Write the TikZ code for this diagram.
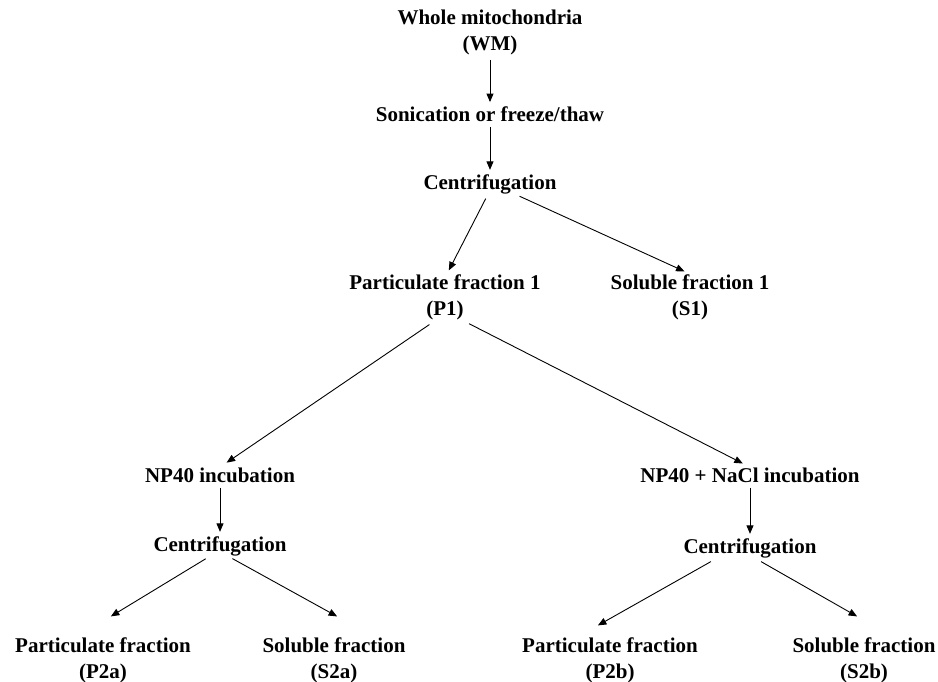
\documentclass[tikz,border=0pt]{standalone}
\usepackage{fontspec}
\setmainfont{Liberation Serif}
\usetikzlibrary{arrows.meta}

\begin{document}
\begin{tikzpicture}[x=1pt,y=-1pt,->,>={Triangle[length=8.5pt,width=7pt]},
  line width=0.9pt,shorten >=4pt,shorten <=5pt,
  main node/.style={font=\fontsize{21}{26}\selectfont\bfseries,align=center,inner sep=0pt}]
  \useasboundingbox (0,0) rectangle (938,682);
  \node[main node] (wm) at (490,32) {Whole mitochondria\\(WM)};
  \node[main node] (son) at (490,114) {Sonication or freeze/thaw};
  \node[main node] (cen1) at (490,184) {Centrifugation};
  \node[main node] (p1) at (445,297) {Particulate fraction 1\\(P1)};
  \node[main node] (s1) at (690,297) {Soluble fraction 1\\(S1)};
  \node[main node] (np) at (220,475) {NP40 incubation};
  \node[main node] (npn) at (750,475) {NP40 + NaCl incubation};
  \node[main node] (cen2a) at (220,546) {Centrifugation};
  \node[main node] (cen2b) at (750,548) {Centrifugation};
  \node[main node] (p2a) at (103,660) {Particulate fraction\\(P2a)};
  \node[main node] (s2a) at (334,660) {Soluble fraction\\(S2a)};
  \node[main node] (p2b) at (610,660) {Particulate fraction\\(P2b)};
  \node[main node] (s2b) at (864,660) {Soluble fraction\\(S2b)};
  \path
    (wm) edge (son)
    (son) edge (cen1)
    ([xshift=-2pt]cen1.south) edge ([xshift=2pt]p1.north)
    ([xshift=25pt]cen1.south) edge[shorten >=6pt] (s1.north)
    ([xshift=-9pt]p1.south) edge[shorten <=8pt,shorten >=8pt] (np.north)
    ([xshift=17pt]p1.south) edge[shorten <=8pt,shorten >=8pt] (npn.north)
    (np) edge (cen2a)
    (npn) edge (cen2b)
    ([xshift=-10pt]cen2a.south) edge[shorten >=1pt] ([xshift=7pt,yshift=20pt]p2a.north)
    ([xshift=8pt]cen2a.south) edge[shorten >=1pt] ([xshift=4pt,yshift=20pt]s2a.north)
    ([xshift=-33pt]cen2b.south) edge[shorten <=7pt,shorten >=1pt] ([xshift=-13pt,yshift=11pt]p2b.north)
    ([xshift=5pt]cen2b.south) edge[shorten <=7pt,shorten >=1pt] ([xshift=-6pt,yshift=20pt]s2b.north);
\end{tikzpicture}
\end{document}
